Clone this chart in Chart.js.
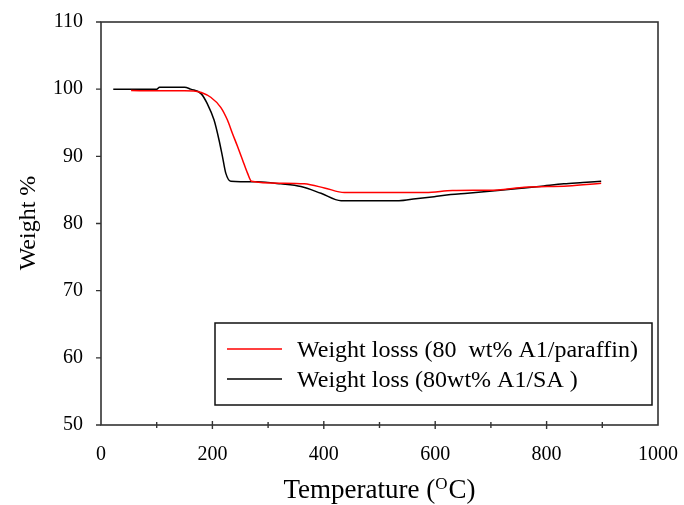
<!DOCTYPE html>
<html>
<head>
<meta charset="utf-8">
<script src="https://cdn.jsdelivr.net/npm/chart.js@4/dist/chart.umd.min.js"></script>
<style>
html,body{margin:0;padding:0;background:#fff;}
#wrap{width:684px;height:505px;position:relative;}
</style>
</head>
<body>
<div id="wrap"><canvas id="c" width="684" height="505"></canvas></div>
<script>
// ---- data ----
const saTemps   = [22,100,105,150,161,180,191,203,212,218,224,233,280,323,359,395,431,535,565,598,628,658,712,760,795,831,865,898];
const saWeights = [100.0,100.0,100.3,100.3,100.0,99.3,97.8,95.4,92.4,90.0,87.5,86.3,86.2,85.9,85.5,84.5,83.4,83.4,83.7,84.0,84.3,84.5,84.9,85.3,85.6,85.9,86.1,86.3];

const parTemps   = [54,100,150,170,180,197,215,227,236,245,254,263,270,323,365,401,437,583,631,712,760,838,898];
const parWeights = [99.8,99.75,99.75,99.7,99.5,98.8,97.3,95.4,93.4,91.5,89.5,87.5,86.3,86.0,85.9,85.3,84.6,84.6,84.9,85.0,85.4,85.6,86.0];

const seriesLabels = ["Weight losss (80  wt% A1/paraffin)", "Weight loss (80wt% A1/SA )"];
const xTickLabels = [0,200,400,600,800,1000];
const yTickLabels = [50,60,70,80,90,100,110];
const xTitle = ["Temperature (", "O", "C)"];
const yTitle = "Weight %";

const SERIF = "'Liberation Serif','Times New Roman',serif";

function toPts(xs, ys){ return xs.map((x,i)=>({x:x, y:ys[i]})); }

const framePlugin = {
  id:'frame',
  afterDraw(chart){
    const {ctx, chartArea:a, scales} = chart;
    ctx.save();
    ctx.strokeStyle = '#333';
    ctx.lineWidth = 1.6;
    ctx.strokeRect(a.left, a.top, a.right-a.left, a.bottom-a.top);
    ctx.lineWidth = 1.4;
    ctx.beginPath();
    yTickLabels.forEach(v=>{
      const y = scales.y.getPixelForValue(v);
      ctx.moveTo(a.left-5, y); ctx.lineTo(a.left, y);
    });
    for (let v=100; v<1000; v+=100){
      const x = scales.x.getPixelForValue(v);
      const major = (v % 200 === 0);
      const h = major ? 4 : 3;
      ctx.moveTo(x, a.bottom-h); ctx.lineTo(x, a.bottom+h);
    }
    ctx.stroke();

    // axis titles
    ctx.fillStyle = '#000';
    ctx.textBaseline = 'alphabetic';
    const big = "27px " + SERIF, small = "17px " + SERIF;
    ctx.font = big;
    const w1 = ctx.measureText(xTitle[0]).width;
    const w3 = ctx.measureText(xTitle[2]).width;
    ctx.font = small;
    const w2 = ctx.measureText(xTitle[1]).width + 1;
    const total = w1+w2+w3;
    let x0 = (a.left+a.right)/2 - total/2;
    const by = 498;
    ctx.font = big; ctx.textAlign='left';
    ctx.fillText(xTitle[0], x0, by);
    ctx.font = small;
    ctx.fillText(xTitle[1], x0+w1, by-9);
    ctx.font = big;
    ctx.fillText(xTitle[2], x0+w1+w2, by);

    ctx.save();
    ctx.translate(35, 223);
    ctx.rotate(-Math.PI/2);
    ctx.font = "24px " + SERIF;
    ctx.textAlign = 'center';
    ctx.fillText(yTitle, 0, 0);
    ctx.restore();

    // legend box
    const lx = 215, ly = 323, lw = 437, lh = 82;
    ctx.fillStyle = '#fff';
    ctx.fillRect(lx, ly, lw, lh);
    ctx.strokeStyle = '#111';
    ctx.lineWidth = 1.5;
    ctx.strokeRect(lx, ly, lw, lh);
    ctx.font = "24px " + SERIF;
    ctx.textAlign = 'left';
    ctx.textBaseline = 'alphabetic';
    chart.data.datasets.forEach((ds,i)=>{
      const yy = ly + 26 + i*30;
      ctx.strokeStyle = ds.borderColor;
      ctx.lineWidth = 1.5;
      ctx.beginPath(); ctx.moveTo(lx+12, yy); ctx.lineTo(lx+67, yy); ctx.stroke();
      ctx.fillStyle = '#000';
      ctx.fillText(ds.label, lx+82, yy+8);
    });
    ctx.restore();
  }
};

function noPad(s){ s.paddingTop = 0; s.paddingBottom = 0; s.paddingLeft = 0; s.paddingRight = 0; }

new Chart(document.getElementById('c'), {
  type:'line',
  data:{
    datasets:[
      {label: seriesLabels[0], data: toPts(parTemps, parWeights), borderColor:'#ff0000', borderWidth:1.5, pointRadius:0, fill:false, cubicInterpolationMode:'monotone'},
      {label: seriesLabels[1], data: toPts(saTemps, saWeights), borderColor:'#000000', borderWidth:1.5, pointRadius:0, fill:false, cubicInterpolationMode:'monotone'}
    ]
  },
  options:{
    responsive:false,
    animation:false,
    devicePixelRatio:1,
    layout:{padding:{left:0, right:26, top:22, bottom:0}},
    plugins:{legend:{display:false}, tooltip:{enabled:false}},
    scales:{
      x:{
        type:'linear', min:0, max:1000,
        border:{display:false},
        grid:{display:false, drawTicks:false},
        ticks:{stepSize:200, padding:18, color:'#000', font:{family:SERIF, size:20},
               callback:v=> xTickLabels.includes(v) ? String(v) : ''},
        afterFit:s=>{ s.height = 80; noPad(s); }
      },
      y:{
        type:'linear', min:50, max:110,
        border:{display:false},
        grid:{display:false, drawTicks:false},
        ticks:{stepSize:10, padding:18, color:'#000', font:{family:SERIF, size:20},
               callback:v=> yTickLabels.includes(v) ? String(v) : ''},
        afterFit:s=>{ s.width = 101; noPad(s); }
      }
    }
  },
  plugins:[framePlugin]
});
</script>
</body>
</html>
